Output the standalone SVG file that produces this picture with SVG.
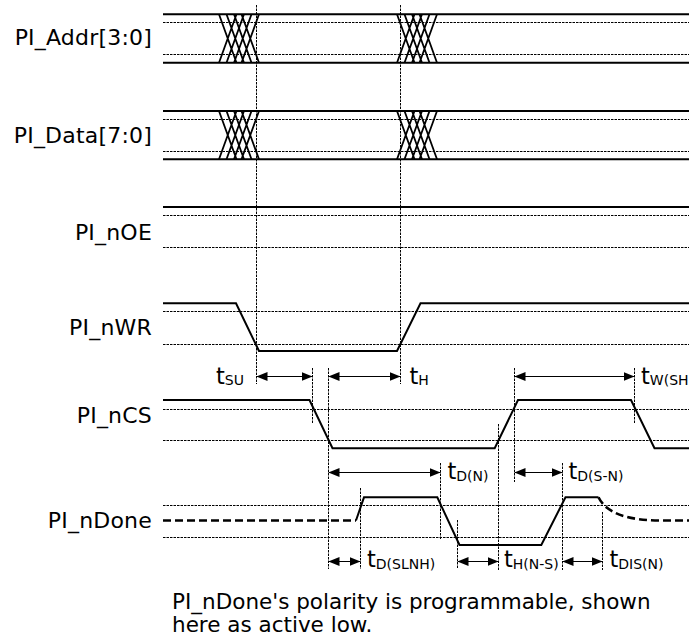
<svg xmlns="http://www.w3.org/2000/svg" width="689" height="638" viewBox="0 0 689 638">
<defs>
<style>
.sig{fill:none;stroke:#000;stroke-width:2;stroke-linejoin:miter}
.x{fill:none;stroke:#000;stroke-width:1.8}
.dot{fill:none;stroke:#000;stroke-width:1;stroke-dasharray:2.5 1}
.dash{fill:none;stroke:#000;stroke-width:2.6;stroke-dasharray:8 4}
.arr{fill:none;stroke:#000;stroke-width:1.2;marker-start:url(#ah);marker-end:url(#ah)}
.lbl{font-family:"DejaVu Sans",Verdana,sans-serif;font-size:22px;fill:#000;letter-spacing:0.2px}
.note{font-family:"DejaVu Sans",Verdana,sans-serif;font-size:21.5px;fill:#000}
.tm{font-family:"DejaVu Sans",Verdana,sans-serif;font-size:22.5px;fill:#000}
.sub{font-size:14px}
</style>
<marker id="ah" viewBox="0 0 11 9" refX="11" refY="4.5" markerWidth="11" markerHeight="9" markerUnits="userSpaceOnUse" orient="auto-start-reverse">
<path d="M0,0 L11,4.5 L0,9 Z" fill="#000"/>
</marker>
</defs>
<rect width="689" height="638" fill="#fff"/>

<g id="addr">
<text class="lbl" x="152" y="45" text-anchor="end">PI_Addr[3:0]</text>
<path class="dot" d="M163,22.5 H689 M163,54.5 H689"/>
<path class="sig" d="M163,14.3 H689 M163,62.7 H689"/>
<path class="x" d="M219,14.3 L236.5,62.7 M226.5,14.3 L244,62.7 M234,14.3 L251.5,62.7 M241.5,14.3 L259,62.7 M219,62.7 L236.5,14.3 M226.5,62.7 L244,14.3 M234,62.7 L251.5,14.3 M241.5,62.7 L259,14.3"/>
<path class="x" d="M397,14.3 L414.5,62.7 M404.5,14.3 L422,62.7 M412,14.3 L429.5,62.7 M419.5,14.3 L437,62.7 M397,62.7 L414.5,14.3 M404.5,62.7 L422,14.3 M412,62.7 L429.5,14.3 M419.5,62.7 L437,14.3"/>
</g>

<g id="data">
<text class="lbl" x="152" y="143" text-anchor="end">PI_Data[7:0]</text>
<path class="dot" d="M163,119.5 H689 M163,151.5 H689"/>
<path class="sig" d="M163,111 H689 M163,159.3 H689"/>
<path class="x" d="M219,111 L236.5,159.3 M226.5,111 L244,159.3 M234,111 L251.5,159.3 M241.5,111 L259,159.3 M219,159.3 L236.5,111 M226.5,159.3 L244,111 M234,159.3 L251.5,111 M241.5,159.3 L259,111"/>
<path class="x" d="M397,111 L414.5,159.3 M404.5,111 L422,159.3 M412,111 L429.5,159.3 M419.5,111 L437,159.3 M397,159.3 L414.5,111 M404.5,159.3 L422,111 M412,159.3 L429.5,111 M419.5,159.3 L437,111"/>
</g>

<g id="noe">
<text class="lbl" x="152" y="240" text-anchor="end">PI_nOE</text>
<path class="dot" d="M163,215.5 H689 M163,247.5 H689"/>
<path class="sig" d="M163,207 H689"/>
</g>

<g id="nwr">
<text class="lbl" x="152" y="335" text-anchor="end">PI_nWR</text>
<path class="dot" d="M163,311.5 H689 M163,344.5 H689"/>
<path class="sig" d="M163,303.3 H236 L259,351 H397 L420.5,303.3 H689"/>
</g>

<g id="ncs">
<text class="lbl" x="152" y="423" text-anchor="end">PI_nCS</text>
<path class="dot" d="M163,409.5 H689 M163,440.5 H689"/>
<path class="sig" d="M163,400 H309.5 L332.5,448.3 H494.7 L518,400 H631 L654.5,448.3 H689"/>
</g>

<g id="ndone">
<text class="lbl" x="152" y="528" text-anchor="end">PI_nDone</text>
<path class="dot" d="M163,505.5 H689 M163,537.5 H689"/>
<path class="dash" d="M163,520.5 H356"/>
<path class="sig" d="M356,520.5 L364,497.3 H437.3 L459.5,545 H541.3 L565.5,497.3 H598.5"/>
<path class="dash" d="M598.5,497.3 C606,513 628,520.5 660,520.5 H689"/>
</g>

<g id="connectors">
<path class="dot" d="M256.5,5 V384 M400.5,5 V384 M312.5,368 V424 M328.5,368 V569 M498.5,424 V570 M514.5,368 V482 M634.5,368 V424 M440.5,463 V540 M360.5,488 V569 M457.5,520 V569 M562.5,463 V570 M602.5,512 V570"/>
<path class="arr" d="M256.5,376.5 H312.5"/>
<path class="arr" d="M328.5,376.5 H400.5"/>
<path class="arr" d="M514.5,376.5 H634.5"/>
<path class="arr" d="M328.5,472.5 H440.5"/>
<path class="arr" d="M514.5,472.5 H562.5"/>
<path class="arr" d="M328.5,561.5 H360.5"/>
<path class="arr" d="M457.5,561.5 H498.5"/>
<path class="arr" d="M562.5,561.5 H602.5"/>
</g>

<g id="timing-labels">
<text class="tm" x="216" y="384">t<tspan class="sub" dy="1">SU</tspan></text>
<text class="tm" x="409.5" y="384">t<tspan class="sub" dy="1">H</tspan></text>
<text class="tm" x="641" y="384">t<tspan class="sub" dy="1">W(SH</tspan></text>
<text class="tm" x="447.5" y="479">t<tspan class="sub" dy="2">D(N)</tspan></text>
<text class="tm" x="568.5" y="479">t<tspan class="sub" dy="2">D(S-N)</tspan></text>
<text class="tm" x="367" y="567">t<tspan class="sub" dy="2">D(SLNH)</tspan></text>
<text class="tm" x="504" y="567">t<tspan class="sub" dy="2">H(N-S)</tspan></text>
<text class="tm" x="609.5" y="567">t<tspan class="sub" dy="2">DIS(N)</tspan></text>
</g>

<g id="note">
<text class="note" x="172" y="609">PI_nDone's polarity is programmable, shown</text>
<text class="note" x="172" y="632">here as active low.</text>
</g>
</svg>
